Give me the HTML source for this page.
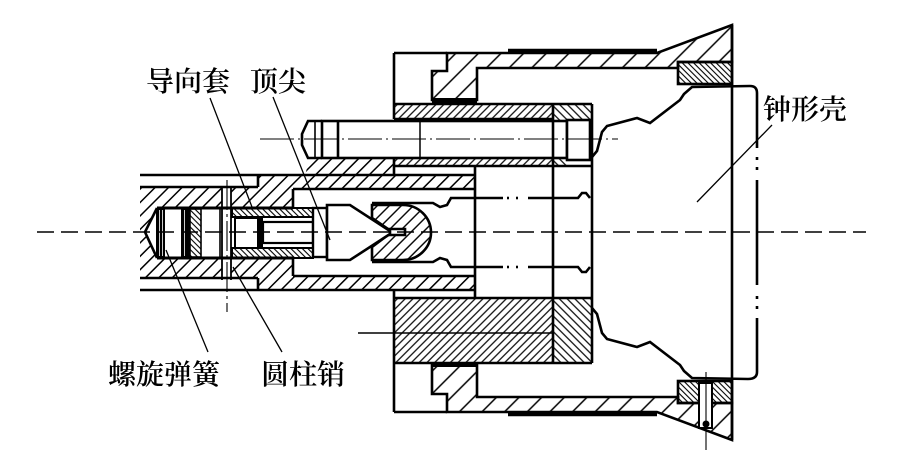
<!DOCTYPE html>
<html><head><meta charset="utf-8">
<style>html,body{margin:0;padding:0;background:#fff;}svg{display:block}
text{font-family:"Liberation Serif","Noto Serif CJK SC","Noto Sans CJK SC",serif;font-size:28px;font-weight:600;fill:#000}</style>
</head>
<body>
<svg width="902" height="475" viewBox="0 0 902 475" xmlns="http://www.w3.org/2000/svg">
<defs>
<pattern id="hS" width="9.5" height="9.5" patternUnits="userSpaceOnUse" patternTransform="rotate(45)"><line x1="4.75" y1="0" x2="4.75" y2="9.5" stroke="#000" stroke-width="1.5"/></pattern>
<pattern id="hH" width="16" height="16" patternUnits="userSpaceOnUse" patternTransform="rotate(45)"><line x1="8" y1="0" x2="8" y2="16" stroke="#000" stroke-width="1.5"/></pattern>
<pattern id="hB" width="5.5" height="5.5" patternUnits="userSpaceOnUse" patternTransform="rotate(45)"><line x1="2.75" y1="0" x2="2.75" y2="5.5" stroke="#000" stroke-width="1.2"/></pattern>
<pattern id="hBr" width="5.5" height="5.5" patternUnits="userSpaceOnUse" patternTransform="rotate(-45)"><line x1="2.75" y1="0" x2="2.75" y2="5.5" stroke="#000" stroke-width="1.2"/></pattern>
<pattern id="hF" width="4" height="4" patternUnits="userSpaceOnUse" patternTransform="rotate(-45)"><line x1="2" y1="0" x2="2" y2="4" stroke="#000" stroke-width="1.1"/></pattern>
<pattern id="hK" width="8.5" height="8.5" patternUnits="userSpaceOnUse" patternTransform="rotate(45)"><line x1="4.25" y1="0" x2="4.25" y2="8.5" stroke="#000" stroke-width="1.4"/></pattern>
</defs>

<!-- spindle hatched body -->
<polygon points="140,187 258,187 258,175 475,175 475,290 258,290 258,278 140,278" fill="url(#hS)"/>
<polygon points="310,158 394,158 394,175 305,175" fill="url(#hS)"/>
<!-- bore and chamber (white) -->
<rect x="293" y="189" width="182" height="87" fill="#fff"/>
<polygon points="145,232 157,208 293,208 293,258 157,258" fill="#fff"/>
<rect x="222" y="187" width="9" height="91" fill="#fff"/>

<g stroke="#000" fill="none" stroke-width="2.6">
  <!-- spindle outlines -->
  <line x1="140" y1="175" x2="475" y2="175"/>
  <line x1="140" y1="187" x2="258" y2="187"/>
  <line x1="258" y1="175" x2="258" y2="187"/>
  <line x1="140" y1="290" x2="475" y2="290"/>
  <line x1="140" y1="278" x2="258" y2="278"/>
  <line x1="258" y1="278" x2="258" y2="290"/>
  <line x1="293" y1="189" x2="475" y2="189"/>
  <line x1="293" y1="276" x2="475" y2="276"/>
  <line x1="293" y1="189" x2="293" y2="208"/>
  <line x1="293" y1="258" x2="293" y2="276"/>
  <line x1="157" y1="208" x2="293" y2="208" stroke-width="3"/>
  <line x1="157" y1="258" x2="293" y2="258" stroke-width="3"/>
  <path d="M157,208 L145,232 L157,258"/>
</g>

<!-- spring -->
<rect x="156" y="209" width="9" height="48" fill="#000"/>
<line x1="159.5" y1="210" x2="159.5" y2="256" stroke="#fff" stroke-width="0.8"/>
<line x1="162.5" y1="210" x2="162.5" y2="256" stroke="#fff" stroke-width="0.8"/>
<rect x="181" y="209" width="9" height="48" fill="#000"/>
<line x1="184.5" y1="210" x2="184.5" y2="256" stroke="#fff" stroke-width="0.8"/>
<rect x="190" y="209" width="11" height="48" fill="url(#hF)" stroke="#000" stroke-width="1.6"/>
<line x1="220" y1="208" x2="220" y2="258" stroke="#000" stroke-width="1.6"/>
<!-- cylindrical pin -->
<line x1="222" y1="188" x2="222" y2="280" stroke="#000" stroke-width="1.8"/>
<line x1="231" y1="188" x2="231" y2="280" stroke="#000" stroke-width="1.8"/>
<line x1="227" y1="180" x2="227" y2="312" stroke="#000" stroke-width="1.1" stroke-dasharray="30 4 3 4"/>

<!-- guide sleeve -->
<rect x="232" y="208" width="81" height="9" fill="url(#hF)" stroke="#000" stroke-width="2"/>
<rect x="232" y="248" width="81" height="10" fill="url(#hF)" stroke="#000" stroke-width="2"/>
<!-- tip rod -->
<rect x="235" y="218" width="23" height="30" fill="#fff" stroke="#000" stroke-width="2"/>
<rect x="258" y="217" width="5" height="31" fill="#000"/>
<rect x="263" y="222" width="50" height="21" fill="#fff" stroke="#000" stroke-width="2.2"/>
<rect x="313" y="208" width="14" height="49" fill="#fff" stroke="#000" stroke-width="2.4"/>
<!-- socket -->
<path d="M372,205 L403,205 A28,27.5 0 0 1 403,260 L372,260 L372,247 L388,235 L405,235 L405,229 L388,229 L372,218 Z" fill="url(#hK)" stroke="#000" stroke-width="2.6"/>
<!-- cone -->
<path d="M327,205 L350,205 L390,231 L390,234 L350,260 L327,260 Z" fill="#fff" stroke="#000" stroke-width="2.6"/>

<!-- bell neck lines -->
<g stroke="#000" fill="none" stroke-width="2.6">
  <path d="M372,203 L433,203 L440,207 L447,205 L451,198 L503,198"/>
  <path d="M528,198 L578,198 L582,193 L586,193 L590,198"/>
  <path d="M372,262 L433,262 L440,258 L447,260 L451,267 L503,267"/>
  <path d="M528,267 L578,267 L582,272 L586,272 L590,267"/>
  <line x1="507" y1="198" x2="509" y2="198"/>
  <line x1="516" y1="198" x2="518" y2="198"/>
  <line x1="507" y1="267" x2="509" y2="267"/>
  <line x1="516" y1="267" x2="518" y2="267"/>
</g>

<!-- top housing -->
<path d="M447,53 L657,53 L732,25 L732,62 L678,62 L678,68 L477,68 L477,100 L432,100 L432,71 L447,71 Z" fill="url(#hH)" stroke="#000" stroke-width="2.6"/>
<rect x="432" y="98" width="45" height="5" fill="#000"/>
<line x1="508" y1="51" x2="657" y2="51" stroke="#000" stroke-width="4.5"/>
<rect x="678" y="62" width="54" height="22" fill="url(#hF)" stroke="#000" stroke-width="2.6"/>
<!-- bottom housing -->
<path d="M447,412 L657,412 L732,440 L732,403 L678,403 L678,397 L477,397 L477,365 L432,365 L432,394 L447,394 Z" fill="url(#hH)" stroke="#000" stroke-width="2.6"/>
<rect x="432" y="362" width="45" height="5" fill="#000"/>
<line x1="508" y1="414" x2="657" y2="414" stroke="#000" stroke-width="4.5"/>
<rect x="678" y="381" width="54" height="22" fill="url(#hF)" stroke="#000" stroke-width="2.6"/>
<rect x="699" y="383" width="13" height="45" fill="#fff" stroke="#000" stroke-width="2"/>
<circle cx="706" cy="424" r="3.5" fill="#000"/>
<line x1="706" y1="372" x2="706" y2="450" stroke="#000" stroke-width="1.1"/>

<!-- top sleeve -->
<rect x="394" y="104" width="159" height="15" fill="url(#hB)"/>
<rect x="553" y="104" width="39" height="16" fill="url(#hBr)"/>
<rect x="394" y="159" width="159" height="6" fill="url(#hB)"/>
<rect x="553" y="159" width="14" height="8" fill="url(#hBr)"/>

<!-- screw -->
<path d="M322,121 L308,121 L302,134 L302,145 L308,158 L322,158" fill="#fff" stroke="#000" stroke-width="2.6"/>
<rect x="322" y="121" width="245" height="37" fill="#fff" stroke="#000" stroke-width="2.6"/>
<line x1="315" y1="121" x2="315" y2="158" stroke="#000" stroke-width="1.6"/>
<line x1="338" y1="121" x2="338" y2="158" stroke="#000" stroke-width="2.6"/>
<line x1="420" y1="121" x2="420" y2="158" stroke="#000" stroke-width="1.5"/>
<rect x="567" y="120" width="23" height="40" fill="#fff" stroke="#000" stroke-width="2.6"/>
<line x1="260" y1="139" x2="618" y2="139" stroke="#000" stroke-width="1.1" stroke-dasharray="34 4 2 4"/>

<!-- lower block -->
<rect x="394" y="298" width="159" height="65" fill="url(#hB)"/>
<rect x="553" y="298" width="39" height="65" fill="url(#hBr)"/>
<line x1="358" y1="333" x2="553" y2="333" stroke="#000" stroke-width="1.5"/>

<g stroke="#000" fill="none" stroke-width="2.6">
  <line x1="394" y1="53" x2="447" y2="53"/>
  <line x1="394" y1="53" x2="394" y2="119"/>
  <line x1="394" y1="158" x2="394" y2="175"/>
  <line x1="394" y1="290" x2="394" y2="412"/>
  <line x1="394" y1="412" x2="447" y2="412"/>
  <line x1="394" y1="104" x2="592" y2="104"/>
  <line x1="394" y1="119" x2="553" y2="119"/>
  <line x1="394" y1="166" x2="592" y2="166"/>
  <line x1="394" y1="298" x2="592" y2="298"/>
  <line x1="394" y1="363" x2="592" y2="363"/>
  <line x1="475" y1="166" x2="475" y2="298"/>
  <line x1="553" y1="104" x2="553" y2="363"/>
  <line x1="592" y1="104" x2="592" y2="363"/>
  <line x1="732" y1="25" x2="732" y2="440"/>
  <!-- bell profile -->
  <path d="M592,157 L597,151 L602,132 L607,126 L637,118 L650,123 L680,100 L684,94 L692,87 L750,86 Q757,86 757,93 L757,148"/>
  <path d="M592,308 L597,314 L602,333 L607,339 L637,347 L650,342 L680,365 L684,371 L692,378 L748,379 Q757,379 757,372 L757,318"/>
  <line x1="757" y1="180" x2="757" y2="285"/>
  <line x1="757" y1="157" x2="757" y2="160"/>
  <line x1="757" y1="167" x2="757" y2="170"/>
  <line x1="757" y1="296" x2="757" y2="299"/>
  <line x1="757" y1="306" x2="757" y2="309"/>
</g>

<!-- main centre line -->
<line x1="37" y1="232" x2="866" y2="232" stroke="#000" stroke-width="1.6" stroke-dasharray="17 7"/>

<!-- leaders -->
<g stroke="#000" stroke-width="1.3">
  <line x1="210" y1="98" x2="252" y2="207"/>
  <line x1="273" y1="97" x2="330" y2="240"/>
  <line x1="208" y1="352" x2="166" y2="250"/>
  <line x1="282" y1="352" x2="233" y2="267"/>
  <line x1="772" y1="125" x2="697" y2="202"/>
</g>

<!-- labels -->
<text x="146" y="91">导向套</text>
<text x="250" y="91">顶尖</text>
<text x="763" y="119">钟形壳</text>
<text x="108" y="384">螺旋弹簧</text>
<text x="261" y="384">圆柱销</text>
</svg>
</body></html>
